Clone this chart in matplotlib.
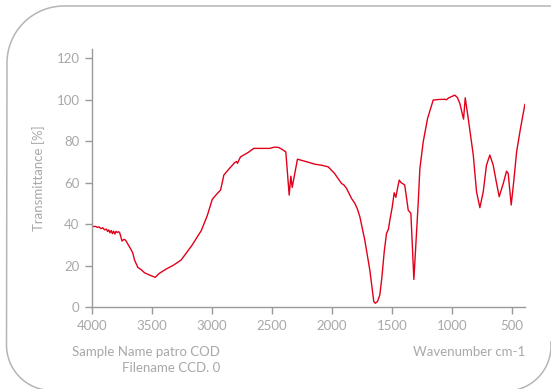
import numpy as np
import matplotlib.pyplot as plt

# spectrum (wavenumber cm-1, transmittance %)
wavenumber = [4000, 3985, 3970, 3955, 3940, 3925, 3910, 3895, 3880, 3870, 3860, 3850,
              3840, 3830, 3820, 3810, 3800, 3790, 3780, 3771, 3765, 3750, 3735, 3721,
              3700, 3673, 3660, 3646, 3630, 3618, 3590, 3562, 3520, 3473, 3440, 3382,
              3320, 3257, 3170, 3090, 3040, 2998, 2960, 2929, 2910, 2902, 2860, 2810,
              2795, 2788, 2763, 2700, 2652, 2600, 2518, 2482, 2448, 2420, 2385, 2370,
              2357, 2343, 2332, 2310, 2288, 2220, 2144, 2080, 2032, 1980, 1921, 1900,
              1879, 1860, 1838, 1810, 1790, 1768, 1727, 1685, 1652, 1638, 1620, 1602,
              1585, 1565, 1546, 1530, 1518, 1498, 1482, 1468, 1455, 1440, 1425, 1413,
              1394, 1380, 1365, 1343, 1318, 1300, 1282, 1268, 1240, 1204, 1157, 1110,
              1060, 1045, 1030, 977, 955, 935, 904, 890, 865, 823, 796, 768, 740, 713,
              685, 657, 630, 607, 573, 546, 532, 507, 485, 462, 430, 393]
transmittance = [39.0, 38.8, 38.9, 38.4, 38.6, 37.8, 38.2, 37.2, 37.6, 36.4, 37.2, 35.8,
                 36.9, 35.4, 36.6, 35.2, 36.5, 35.9, 36.3, 36.0, 35.0, 31.8, 32.6, 32.3,
                 30.2, 27.5, 26.0, 22.7, 20.6, 19.1, 18.0, 16.5, 15.4, 14.3, 16.2, 18.3,
                 20.2, 22.7, 29.5, 36.8, 44.0, 51.9, 54.5, 56.4, 61.2, 63.6, 66.5, 69.7,
                 70.2, 69.3, 72.4, 74.5, 76.5, 76.5, 76.5, 77.1, 77.0, 76.2, 74.8, 64.0,
                 54.0, 63.1, 57.7, 64.5, 71.3, 70.2, 68.9, 68.3, 67.6, 64.5, 59.6, 58.8,
                 57.2, 55.0, 52.4, 50.0, 47.5, 43.5, 32.3, 17.8, 2.6, 1.8, 2.8, 5.8,
                 14.0, 26.7, 35.5, 37.5, 41.9, 48.3, 55.1, 52.9, 57.0, 61.2, 60.0, 59.6,
                 58.8, 53.0, 46.7, 45.2, 13.3, 32.0, 50.0, 66.8, 79.7, 90.9, 99.8, 100.1,
                 100.2, 100.0, 100.8, 102.2, 101.0, 98.2, 90.6, 100.9, 90.9, 73.3, 55.6,
                 47.9, 55.6, 68.4, 73.3, 68.4, 60.0, 53.2, 59.6, 65.5, 64.4, 49.2, 61.0,
                 74.8, 86.0, 97.7]

x_ticks = [4000, 3500, 3000, 2500, 2000, 1500, 1000, 500]
y_ticks = [0, 20, 40, 60, 80, 100, 120]

grey = '#9a9a9a'
label_grey = '#a8a8a8'
plt.rcParams['font.family'] = ['Lato', 'DejaVu Sans']

fig = plt.figure(figsize=(5.51, 3.89), dpi=100)

# rounded frame, drawn in pixel units on a background axes
bg = fig.add_axes([0, 0, 1, 1], zorder=-1)
bg.set_xlim(0, 551)
bg.set_ylim(389, 0)
bg.axis('off')


def arc(cx, cy, r, a0, a1):
    t = np.radians(np.linspace(a0, a1, 40))
    return cx + r * np.cos(t), cy + r * np.sin(t)


xs, ys = [], []
for seg in [([552], [6]), ([64], [6]),
            arc(64, 63, 57, 270, 180),
            ([6.5], [345]),
            arc(52, 345, 45.5, 180, 90),
            arc(506, 346, 45, 90, -5)]:
    xs.extend(seg[0])
    ys.extend(seg[1])
bg.plot(xs, ys, color='#b5b5b5', linewidth=1.1, clip_on=False)

ax = fig.add_axes([92 / 551, 1 - 307 / 389, 433 / 551, (307 - 49.3) / 389])
ax.plot(wavenumber, transmittance, color='#e2001a', linewidth=1.0)

ax.set_xlim(4000, 392)
ax.set_ylim(0, 124.3)
ax.set_xticks(x_ticks)
ax.set_yticks(y_ticks)
ax.patch.set_alpha(0)
for side in ['top', 'right']:
    ax.spines[side].set_visible(False)
for side in ['left', 'bottom']:
    ax.spines[side].set_color(grey)
    ax.spines[side].set_linewidth(1.0)
ax.tick_params(colors=grey, labelcolor=label_grey, labelsize=9.5, length=5, width=1.0, pad=4)

ax.set_ylabel('Transmittance [%]', color=label_grey, fontsize=9.5, labelpad=8)

fig.text(220 / 551, 1 - 352 / 389, 'Sample Name patro COD', ha='right', va='center',
         color=label_grey, fontsize=9.5)
fig.text(220 / 551, 1 - 368 / 389, 'Filename CCD. 0', ha='right', va='center',
         color=label_grey, fontsize=9.5)
fig.text(525 / 551, 1 - 352 / 389, 'Wavenumber cm-1', ha='right', va='center',
         color=label_grey, fontsize=9.5)

fig.savefig('out.png', dpi=100)
